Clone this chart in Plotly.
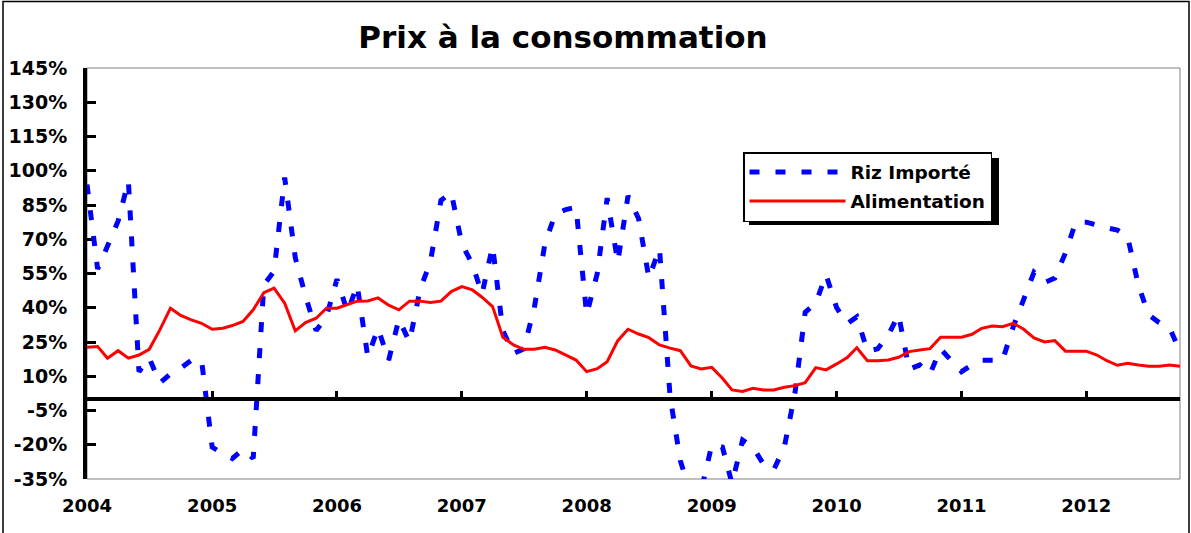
import pandas as pd
import plotly.graph_objects as go

# ---------------- data ----------------
months = pd.date_range("2004-01-01", periods=106, freq="MS")
year_ticks = pd.date_range("2004-01-01", "2012-01-01", freq="YS")
year_labels = [str(d.year) for d in year_ticks]
y_ticks = list(range(-35, 146, 15))
y_labels = [f"{v}%" for v in y_ticks]

riz_importe = [
    94, 57, 67, 78, 95.5, 12, 18, 7, 11, 13.5, 17, 17,
    -21, -24, -26, -22, -26, 50, 56, 97, 62, 45, 30, 36,
    52.5, 38, 50, 18.5, 31, 17, 35, 25, 48, 60, 87, 90.5,
    68, 59, 46, 67, 30, 20, 22, 40, 68, 81, 83, 84,
    37, 55, 88, 60, 89, 79, 53, 66, 1, -27, -42, -40,
    -20, -21, -37, -18, -21, -28.5, -31, -21, 2.5, 38, 42, 54.5,
    40, 33, 36, 21, 22, 28, 37, 13, 15, 11, 22, 17,
    12, 15, 17, 17, 17, 31.5, 43, 55.5, 51, 53, 64, 77.5,
    77.5, 76, 75, 74, 71, 50, 37, 33.5, 31, 21,
]
alimentation = [
    22.7, 23.0, 17.9, 21.2, 17.9, 19.3, 21.8, 30.3, 39.8, 36.6, 34.7, 33.2,
    30.6, 31.0, 32.2, 34.0, 39.1, 46.6, 48.6, 42.0, 29.9, 33.5, 35.4, 39.8,
    39.8, 41.3, 42.9, 43.0, 44.3, 41.1, 39.1, 42.9, 42.9, 42.3, 42.9, 47.1,
    49.3, 47.8, 44.6, 40.5, 27.1, 23.7, 21.8, 21.8, 22.7, 21.5, 19.3, 17.1,
    12.0, 13.3, 16.4, 25.6, 30.6, 28.5, 26.9, 23.7, 22.3, 21.2, 14.5, 13.2,
    13.9, 9.1, 4.0, 3.3, 4.7, 4.0, 4.0, 5.2, 5.9, 7.2, 13.8, 12.8,
    15.4, 18.2, 22.5, 16.8, 16.8, 17.1, 18.3, 20.8, 21.5, 22.1, 27.1, 27.1,
    27.1, 28.4, 31.0, 32.0, 31.7, 33.2, 30.7, 26.8, 25.0, 25.6, 21.0, 21.0,
    21.0, 19.3, 16.8, 14.8, 15.7, 14.9, 14.4, 14.4, 14.9, 14.4,
]

# ---------------- layout geometry ----------------
W, H = 1191, 533
ML, MR, MT, MB = 87, 11, 68, 54
PW, PH = W - ML - MR, H - MT - MB


def px_x(p):
    return (p - ML) / PW


def px_y(p):
    return (H - MB - p) / PH


FONT = "DejaVu Sans, Arial, sans-serif"

fig = go.Figure()
fig.add_trace(go.Scatter(
    x=months, y=riz_importe, name="Riz Importé", mode="lines",
    line=dict(color="#0000FF", width=5, dash="10px,16px"),
    legendgroup="a",
))
fig.add_trace(go.Scatter(
    x=months, y=alimentation, name="Alimentation", mode="lines",
    line=dict(color="#FF0000", width=3),
    legendgroup="b",
))
# empty helper trace so that the axis through zero (with year ticks) is drawn
fig.add_trace(go.Scatter(x=[], y=[], xaxis="x2", yaxis="y",
                         showlegend=False, hoverinfo="skip"))

fig.update_layout(
    width=W, height=H,
    margin=dict(l=ML, r=MR, t=MT, b=MB, autoexpand=False),
    paper_bgcolor="white", plot_bgcolor="white",
    font=dict(family=FONT, color="black", size=18, weight="bold"),
    title=dict(text="Prix à la consommation", x=563 / W, xanchor="center",
               y=1 - 37 / H, yanchor="middle", yref="container",
               font=dict(family=FONT, size=31, weight="bold", color="black")),
    showlegend=True,
    legend=dict(x=px_x(743), y=px_y(152), xanchor="left", yanchor="top",
                bgcolor="white", bordercolor="black", borderwidth=1.5,
                font=dict(family=FONT, size=18.5, weight="bold", color="black"),
                itemwidth=96, tracegroupgap=2),
    xaxis=dict(type="date", range=[months[0], months[-1]],
               tickvals=list(year_ticks), ticktext=year_labels,
               showline=False, showgrid=False, zeroline=False, ticks="",
               ticklabelstandoff=14,
               tickfont=dict(family=FONT, size=18, weight="bold")),
    xaxis2=dict(type="date", range=[months[0], months[-1]], overlaying="x",
                anchor="free", position=35 / 180, side="bottom",
                tickvals=list(year_ticks), showticklabels=False,
                showline=True, linecolor="black", linewidth=4,
                ticks="inside", ticklen=6, tickwidth=3, tickcolor="black",
                showgrid=False, zeroline=False),
    yaxis=dict(range=[-35, 145], tickvals=y_ticks, ticktext=y_labels,
               showline=True, linecolor="black", linewidth=4,
               ticks="inside", ticklen=9, tickwidth=3, tickcolor="black",
               showgrid=False, zeroline=True, zerolinecolor="black",
               zerolinewidth=4, ticklabelstandoff=12, layer="below traces",
               tickfont=dict(family=FONT, size=19, weight="bold")),
    shapes=[
        dict(type="rect", xref="paper", yref="paper",
             x0=px_x(3), x1=px_x(1189), y0=px_y(545), y1=px_y(1.5),
             line=dict(color="black", width=1.5), layer="below"),
        dict(type="rect", xref="paper", yref="paper",
             x0=0, x1=1, y0=0, y1=1,
             line=dict(color="#808080", width=1), layer="below"),
        dict(type="rect", xref="paper", yref="paper",
             x0=px_x(749), x1=px_x(999), y0=px_y(225), y1=px_y(158),
             fillcolor="black", line=dict(width=0), layer="above"),
    ],
)

fig.write_html("out.html",
               config={"displayModeBar": False},
               post_script="document.body.style.margin='0px';")
